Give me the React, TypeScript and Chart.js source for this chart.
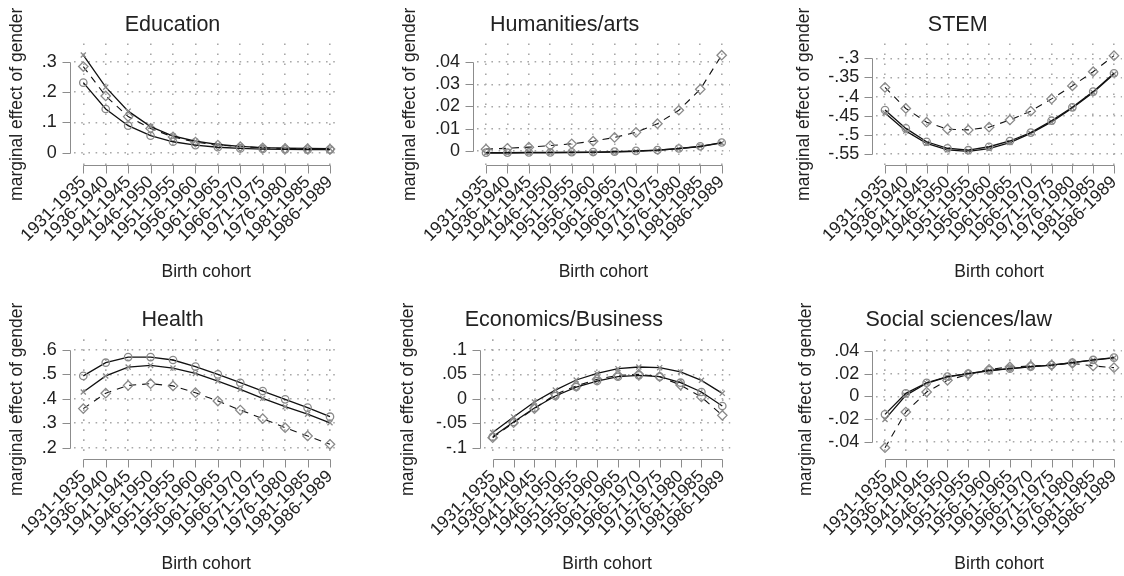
import React, { useEffect, useRef } from "react";
import { Chart, registerables } from "chart.js";

Chart.register(...registerables);

// ---------------- DATA ----------------
const cohorts = [
  "1931-1935", "1936-1940", "1941-1945", "1946-1950", "1951-1955", "1956-1960",
  "1961-1965", "1966-1970", "1971-1975", "1976-1980", "1981-1985", "1986-1989",
];

const panelTitles = ["Education", "Humanities/arts", "STEM", "Health", "Economics/Business", "Social sciences/law"];

// Education
const eduCircle = [0.231, 0.144, 0.089, 0.056, 0.036, 0.025, 0.018, 0.014, 0.012, 0.011, 0.010, 0.010];
const eduCross = [0.322, 0.216, 0.137, 0.086, 0.055, 0.038, 0.027, 0.021, 0.017, 0.015, 0.014, 0.013];
const eduDiamond = [0.284, 0.187, 0.119, 0.080, 0.052, 0.035, 0.025, 0.020, 0.016, 0.014, 0.013, 0.012];
const eduTicks = [0, 0.1, 0.2, 0.3];
const eduRange = [-0.0406, 0.36];

// Humanities/arts
const humCircle = [-0.0009, -0.0009, -0.0008, -0.0008, -0.0007, -0.0006, -0.0004, -0.0001, 0.0003, 0.001, 0.002, 0.0037];
const humCross = [-0.0011, -0.0011, -0.001, -0.001, -0.0009, -0.0008, -0.0006, -0.0003, 0.0002, 0.0009, 0.0019, 0.0035];
const humDiamond = [0.0007, 0.0011, 0.0016, 0.0023, 0.0031, 0.0043, 0.006, 0.0083, 0.0122, 0.0183, 0.0278, 0.0432];
const humTicks = [0, 0.01, 0.02, 0.03, 0.04];
const humRange = [-0.00647, 0.0485];

// STEM
const stemCircle = [-0.435, -0.483, -0.518, -0.535, -0.54, -0.531, -0.516, -0.494, -0.463, -0.428, -0.387, -0.339];
const stemCross = [-0.443, -0.49, -0.522, -0.539, -0.543, -0.536, -0.52, -0.496, -0.466, -0.43, -0.389, -0.341];
const stemDiamond = [-0.376, -0.431, -0.467, -0.485, -0.487, -0.48, -0.461, -0.438, -0.406, -0.372, -0.335, -0.293];
const stemTicks = [-0.55, -0.5, -0.45, -0.4, -0.35, -0.3];
const stemRange = [-0.5787, -0.2613];

// Health
const healthCircle = [0.494, 0.548, 0.571, 0.571, 0.559, 0.532, 0.5, 0.466, 0.432, 0.398, 0.364, 0.327];
const healthCross = [0.428, 0.494, 0.53, 0.537, 0.526, 0.504, 0.473, 0.439, 0.402, 0.368, 0.337, 0.302];
const healthDiamond = [0.36, 0.423, 0.455, 0.462, 0.453, 0.425, 0.391, 0.354, 0.319, 0.282, 0.248, 0.214];
const healthTicks = [0.2, 0.3, 0.4, 0.5, 0.6];
const healthRange = [0.1525, 0.6438];

// Economics/Business
const econCircle = [-0.0775, -0.0474, -0.0188, 0.0058, 0.0242, 0.0365, 0.0454, 0.0481, 0.0454, 0.0331, 0.014, -0.0147];
const econCross = [-0.069, -0.037, -0.0065, 0.018, 0.0386, 0.052, 0.0618, 0.0652, 0.0638, 0.055, 0.0379, 0.0113];
const econDiamond = [-0.0795, -0.0488, -0.0201, 0.0092, 0.0263, 0.04, 0.0481, 0.0502, 0.0454, 0.0283, 0.0038, -0.0338];
const econTicks = [-0.1, -0.05, 0, 0.05, 0.1];
const econRange = [-0.1237, 0.1219];

// Social sciences/law
const socCircle = [-0.0159, 0.0026, 0.012, 0.0174, 0.02, 0.0229, 0.0244, 0.0262, 0.0276, 0.0297, 0.0321, 0.0341];
const socCross = [-0.0203, 0.0009, 0.0115, 0.0171, 0.02, 0.0224, 0.0244, 0.0259, 0.0276, 0.0297, 0.032, 0.034];
const socDiamond = [-0.0453, -0.0138, 0.0038, 0.0141, 0.0194, 0.0238, 0.0259, 0.0268, 0.0276, 0.0291, 0.0268, 0.0253];
const socTicks = [-0.04, -0.02, 0, 0.02, 0.04];
const socRange = [-0.0555, 0.0503];

const yLabel = "marginal effect of gender";
const xLabel = "Birth cohort";

const panelSeries = [
  [eduCircle, eduCross, eduDiamond],
  [humCircle, humCross, humDiamond],
  [stemCircle, stemCross, stemDiamond],
  [healthCircle, healthCross, healthDiamond],
  [econCircle, econCross, econDiamond],
  [socCircle, socCross, socDiamond],
];
const panelTicks = [eduTicks, humTicks, stemTicks, healthTicks, econTicks, socTicks];
const panelRanges = [eduRange, humRange, stemRange, healthRange, econRange, socRange];

// ---------------- LAYOUT (pixels) ----------------
const FONT = "'Liberation Sans', Arial, Helvetica, sans-serif";
const TEXT = "#222222";
const GRID = "#a8a8a8";
const AXIS = "#8c8c8c";
const MARK = "#8a8a8a";
const LINE = "#111111";

const X_MIN = -0.42;
const X_MAX = 11.38;

const rows = [
  { top: 0, height: 295, plotTop: 43.5, plotBottom: 165, xTitleY: 272, titleY: 25 },
  { top: 295, height: 281, plotTop: 44.3, plotBottom: 164.3, xTitleY: 269.3, titleY: 25 },
];
const cols = [0, 375, 749];
const panelLayout = [
  { yTitleX: 17, firstCat: 83.3, lastCat: 330 },
  { yTitleX: 35, firstCat: 111, lastCat: 346.7 },
  { yTitleX: 55, firstCat: 136, lastCat: 365 },
  { yTitleX: 17, firstCat: 83.3, lastCat: 330 },
  { yTitleX: 33, firstCat: 117.7, lastCat: 347.3 },
  { yTitleX: 57, firstCat: 136, lastCat: 365 },
];
const CANVAS_W = 375;

const TITLE_SIZE = 21.5;
const LABEL_SIZE = 17.5;
const YTICK_SIZE = 18;
const XTICK_SIZE = 17.5;

function fmt(v: number): string {
  const n = Number(v.toFixed(4));
  if (n === 0) return "0";
  return String(n).replace(/^(-?)0\./, "$1.");
}

const axesPlugin = {
  id: "stataAxes",
  afterDraw(chart: any) {
    const { ctx, chartArea, scales } = chart;
    const xs = scales.x;
    const ys = scales.y;
    ctx.save();
    ctx.setLineDash([]);
    ctx.strokeStyle = AXIS;
    ctx.lineWidth = 1;
    ctx.beginPath();
    const ax = Math.round(chartArea.left - 4) + 0.5;
    const yp = ys.ticks.map((t: any) => Math.round(ys.getPixelForValue(t.value)) + 0.5);
    ctx.moveTo(ax, Math.min(...yp));
    ctx.lineTo(ax, Math.max(...yp));
    yp.forEach((p: number) => {
      ctx.moveTo(ax - 8, p);
      ctx.lineTo(ax, p);
    });
    const ay = Math.round(chartArea.bottom) + 0.5;
    const xp = xs.ticks.map((t: any) => Math.round(xs.getPixelForValue(t.value)) + 0.5);
    ctx.moveTo(Math.min(...xp), ay);
    ctx.lineTo(Math.max(...xp), ay);
    xp.forEach((p: number) => {
      ctx.moveTo(p, ay);
      ctx.lineTo(p, ay + 8);
    });
    ctx.stroke();
    ctx.restore();
  },
};

function Panel({ index }: { index: number }) {
  const ref = useRef<HTMLCanvasElement | null>(null);
  const row = rows[Math.floor(index / 3)];
  const col = cols[index % 3];
  const lay = panelLayout[index];

  useEffect(() => {
    if (!ref.current) return;
    const k = (lay.lastCat - lay.firstCat) / (cohorts.length - 1);
    const chartLeft = lay.firstCat + X_MIN * k;
    const chartRight = lay.lastCat + (X_MAX - (cohorts.length - 1)) * k;
    const labelLH = LABEL_SIZE * 1.2;
    const titleLH = TITLE_SIZE * 1.2;
    const padLeft = lay.yTitleX - labelLH / 2;
    const yWidth = chartLeft - padLeft;
    const padRight = CANVAS_W - chartRight;
    const xScaleBottom = row.xTitleY + labelLH / 2;
    const xHeight = xScaleBottom - row.plotBottom;
    const padBottom = row.height - xScaleBottom;
    const titleTop = row.titleY - titleLH / 2;
    const titleBottom = row.plotTop - titleTop - titleLH;

    const [circ, cross, diam] = panelSeries[index];
    const toPts = (arr: number[]) => arr.map((v, i) => ({ x: i, y: v }));
    const ticks = panelTicks[index];
    const range = panelRanges[index];

    const chart = new Chart(ref.current, {
      type: "line",
      data: {
        datasets: [
          {
            label: "circle",
            data: toPts(circ),
            borderColor: LINE,
            borderWidth: 1.3,
            pointStyle: "circle",
            pointRadius: 3.7,
            pointBorderColor: MARK,
            pointBackgroundColor: "rgba(0,0,0,0)",
            pointBorderWidth: 1.3,
            tension: 0,
          },
          {
            label: "cross",
            data: toPts(cross),
            borderColor: LINE,
            borderWidth: 1.3,
            pointStyle: "crossRot",
            pointRadius: 3.6,
            pointBorderColor: MARK,
            pointBorderWidth: 1.3,
            tension: 0,
          },
          {
            label: "diamond",
            data: toPts(diam),
            borderColor: LINE,
            borderWidth: 1.1,
            borderDash: [7, 6],
            pointStyle: "rectRot",
            pointRadius: 4.7,
            pointBorderColor: MARK,
            pointBackgroundColor: "rgba(0,0,0,0)",
            pointBorderWidth: 1.3,
            tension: 0,
          },
        ],
      },
      options: {
        responsive: false,
        animation: false,
        events: [],
        layout: {
          autoPadding: false,
          padding: { left: padLeft, right: padRight, top: 0, bottom: padBottom },
        },
        plugins: {
          legend: { display: false },
          tooltip: { enabled: false },
          title: {
            display: true,
            text: panelTitles[index],
            color: TEXT,
            font: { family: FONT, size: TITLE_SIZE, weight: "normal" },
            padding: { top: titleTop, bottom: titleBottom },
          },
        },
        scales: {
          x: {
            type: "linear",
            min: X_MIN,
            max: X_MAX,
            bounds: "data",
            afterBuildTicks: (s: any) => {
              s.ticks = cohorts.map((_, i) => ({ value: i }));
            },
            afterFit: (s: any) => {
              s.height = xHeight;
              s.paddingLeft = 0;
              s.paddingRight = 0;
              s.paddingTop = 0;
              s.paddingBottom = 0;
            },
            ticks: {
              autoSkip: false,
              minRotation: 45,
              maxRotation: 45,
              padding: 7,
              color: TEXT,
              font: { family: FONT, size: XTICK_SIZE },
              callback: (v: any) => cohorts[Math.round(Number(v))] ?? "",
            },
            grid: { drawTicks: false, color: GRID, lineWidth: 1.6 },
            border: { display: false, dash: [1.6, 8.4] },
            title: {
              display: true,
              text: xLabel,
              color: TEXT,
              padding: 0,
              font: { family: FONT, size: LABEL_SIZE },
            },
          },
          y: {
            type: "linear",
            min: range[0],
            max: range[1],
            bounds: "data",
            afterBuildTicks: (s: any) => {
              s.ticks = ticks.map((v) => ({ value: v }));
            },
            afterFit: (s: any) => {
              s.width = yWidth;
              s.paddingTop = 0;
              s.paddingBottom = 0;
              s.paddingLeft = 0;
              s.paddingRight = 0;
            },
            ticks: {
              autoSkip: false,
              padding: 17,
              color: TEXT,
              font: { family: FONT, size: YTICK_SIZE },
              callback: (v: any) => fmt(Number(v)),
            },
            grid: { drawTicks: false, color: GRID, lineWidth: 1.6 },
            border: { display: false, dash: [1.6, 5.6] },
            title: {
              display: true,
              text: yLabel,
              color: TEXT,
              padding: 0,
              font: { family: FONT, size: LABEL_SIZE },
            },
          },
        },
      } as any,
      plugins: [axesPlugin as any],
    });
    return () => chart.destroy();
  }, [index]);

  return (
    <canvas
      ref={ref}
      width={CANVAS_W}
      height={row.height}
      style={{ position: "absolute", left: col, top: row.top, width: CANVAS_W, height: row.height }}
    />
  );
}

export default function App() {
  return (
    <div
      style={{
        position: "absolute",
        left: 0,
        top: 0,
        width: 1124,
        height: 576,
        overflow: "hidden",
        background: "#ffffff",
      }}
    >
      {panelTitles.map((_, i) => (
        <Panel key={i} index={i} />
      ))}
    </div>
  );
}
